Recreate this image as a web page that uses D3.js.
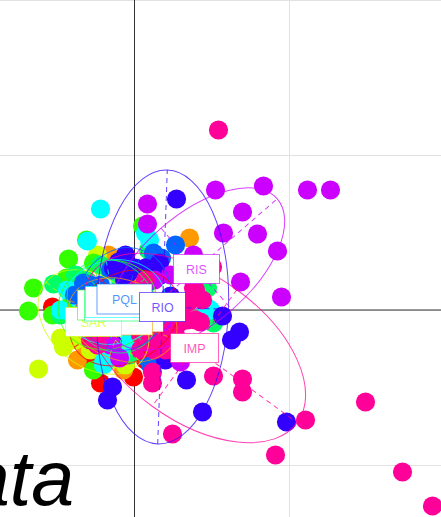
<!DOCTYPE html>
<html><head><meta charset="utf-8">
<script src="https://cdn.jsdelivr.net/npm/d3@7/dist/d3.min.js"></script>
<style>html,body{margin:0;padding:0;background:#fff;overflow:hidden}</style></head>
<body><svg id="c" width="441" height="517"></svg>
<script>
// scores: x, y (one grid cell = 155 units), one list per class, in drawing order
const classNames = ["", "", "SAR", "", "", "", "PQL", "RIO", "RIS", "IMP"];
const classColors = ["#ff0000","#ff9900","#ccff00","#33ff00","#00ff66","#00ffff","#0066ff","#3300ff","#cc00ff","#ff0099"];
const red = [[-82,3],[-34,-73],[-1,-67],[-9,-40],[-49,-25],[-14,20],[-24,10],[-19,-50],[11,-50],[-44,-50],[-30,-35]];
const orange = [[55,72],[-57,-50],[-11,-60],[-39,48],[-26,55],[-49,-35],[-4,-30],[-34,-40],[-20,-48],[-44,10]];
const lime = [[-96,-59],[-74,-28],[-71,-37],[-37,55],[-49,-20],[-59,-30],[-24,-50],[-9,-55],[-44,-40],[-34,10],[-5,25]];
const green = [[-101,22],[-106,-1],[-82,-5],[-66,51],[-68,32],[-48,70],[-41,-60],[-41,47],[-34,20],[-64,5],[11,-10],[-20,-35],[-60,-10],[-25,40],[8,84]];
const mint = [[-81,26],[-59,35],[14,60],[79,-13],[-34,45],[-49,30],[-14,30],[-74,-5],[-44,-20],[6,0],[73,22],[-5,-45],[6,40]];
const cyan = [[-34,101],[-47,69],[11,77],[-67,20],[-74,0],[-31,-55],[-31,-52],[11,-25],[-14,-45],[73,2],[76,0],[-39,10],[15,70],[-55,10],[-5,-30],[-20,-20]];
const blue = [[41,65],[19,57],[13,43],[-44,25],[-51,27],[11,25],[14,-50],[16,-55],[26,-45],[-9,40],[-24,40],[-34,25],[-60,15],[27,52],[38,-45]];
const indigo = [[42,111],[88,-6],[105,-22],[97,-30],[152,-112],[68,-102],[52,-70],[-22,-77],[-27,-90],[25,47],[-9,55],[-16,48],[-21,42],[-6,37],[1,42],[11,42],[36,14],[31,-50],[-22,-33],[26,35],[-10,30],[60,20]];
const violet = [[13,106],[13,86],[81,120],[129,124],[173,120],[196,120],[108,98],[89,77],[123,76],[143,59],[106,28],[147,13],[59,55],[36,35],[46,-52],[-22,-35],[-24,-35],[41,-5],[31,-15],[20,30],[-15,-48],[5,-10]];
const pink = [[84,180],[79,-66],[108,-69],[108,-82],[171,-110],[141,-145],[231,-92],[268,-162],[298,-196],[38,-124],[18,-73],[18,-62],[26,-33],[53,-10],[66,-12],[61,20],[68,10],[46,-12],[54,8],[-44,-30],[-37,-35],[6,-25],[16,-15],[26,-10],[6,-40],[31,-30],[41,-35],[-29,-20],[-5,-5],[20,-40],[11,-35],[31,-40],[41,-25],[16,-25],[59,22],[61,-10],[78,43],[11,30],[1,20]];
const classPoints = [red, orange, lime, green, mint, cyan, blue, indigo, violet, pink];
// ellipse per class: centre x, centre y, semi axes, angle (deg) of the long axis
const ellCx = [-10,-12,-41,-27,-22,-21,-10,28,62,60];
const ellCy = [-8,-10,-12,5,4,8,11,3,41,-38];
const ellA = [58,56,62,50,50,52,52,137,107,127];
const ellB = [44,40,44,44,42,42,46,66,54,72];
const ellT = [30,-20,-40,20,-50,10,70,88,41,-36];
// label boxes half size
const boxW = [39,30,28,30,28,28,27.5,23,23,24];
const boxH = [14,15,14.5,15,15,15.5,15,14.5,14.5,14.5];
const gridX = [0,155];
const gridY = [-155,0,155,310];
const title = "Data";

const W=441,H=517;
const x=d3.scaleLinear().domain([-134.5,306.5]).range([0,W]);
const y=d3.scaleLinear().domain([310,-207]).range([0,H]);
const svg=d3.select("#c");
svg.append("g").selectAll("line").data(gridX).join("line").attr("x1",d=>x(d)).attr("x2",d=>x(d)).attr("y1",0).attr("y2",H).attr("stroke","#e2e2e2");
svg.append("g").selectAll("line").data(gridY).join("line").attr("x1",0).attr("x2",W).attr("y1",d=>y(d)+.5).attr("y2",d=>y(d)+.5).attr("stroke","#e2e2e2");
svg.append("line").attr("x1",x(0)).attr("x2",x(0)).attr("y1",0).attr("y2",H).attr("stroke","#333");
svg.append("line").attr("x1",0).attr("x2",W).attr("y1",y(0)).attr("y2",y(0)).attr("stroke","#333");
svg.append("text").text(title).attr("x",74).attr("y",505).attr("text-anchor","end").attr("font-family","Liberation Sans").attr("font-style","italic").attr("font-size",77).attr("fill","#000");
classPoints.forEach((pts,i)=>{
  svg.append("g").selectAll("circle").data(pts).join("circle").attr("cx",d=>x(d[0])).attr("cy",d=>y(d[1])).attr("r",9.6).attr("fill",classColors[i]);
});
const sx=x(1)-x(0), sy=y(0)-y(1);
classColors.forEach((c,i)=>{
  const g=svg.append("g").attr("transform",`translate(${x(ellCx[i])},${y(ellCy[i])}) rotate(${-ellT[i]})`);
  g.append("ellipse").attr("rx",ellA[i]*sx).attr("ry",ellB[i]*sy).attr("fill","none").attr("stroke",c).attr("stroke-width",1).attr("opacity",.75);
  [[-ellA[i]*sx,0,ellA[i]*sx,0],[0,-ellB[i]*sy,0,ellB[i]*sy]].forEach(l=>g.append("line").attr("x1",l[0]).attr("y1",l[1]).attr("x2",l[2]).attr("y2",l[3]).attr("stroke",c).attr("stroke-dasharray","5 4").attr("opacity",.75));
});
classColors.forEach((c,i)=>{
  const px=x(ellCx[i]), py=y(ellCy[i]);
  svg.append("rect").attr("x",px-boxW[i]).attr("y",py-boxH[i]).attr("width",2*boxW[i]).attr("height",2*boxH[i]).attr("fill","#fff").attr("stroke",c).attr("stroke-width",1).attr("stroke-opacity",.6);
  if(classNames[i]) svg.append("text").text(classNames[i]).attr("x",px).attr("y",py+4.5).attr("text-anchor","middle").attr("font-family","Liberation Sans").attr("font-size",12.5).attr("fill",c).attr("fill-opacity",.7);
});
</script></body></html>
